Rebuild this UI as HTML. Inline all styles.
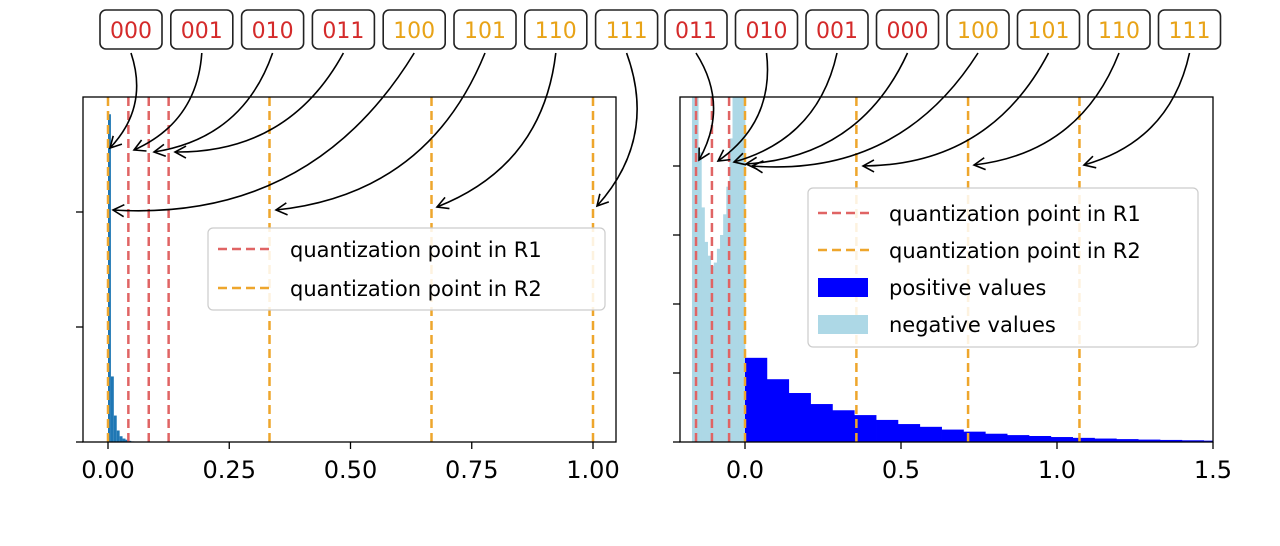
<!DOCTYPE html>
<html><head><meta charset="utf-8"><style>
html,body{margin:0;padding:0;background:#fff;}
svg{display:block;font-family:"DejaVu Sans","Liberation Sans",sans-serif;}
</style></head><body>
<svg id="fig" width="1280" height="546" viewBox="0 0 1280 546">
<defs>
<marker id="ah" markerWidth="14" markerHeight="14" refX="12" refY="7" orient="auto" markerUnits="userSpaceOnUse">
<path d="M1,1 L12,7 L1,13" fill="none" stroke="#000" stroke-width="1.6"/>
</marker>
</defs>
<g id="left"></g>
<g id="right"></g>
<g id="labels"></g>
</svg>
<script>
const NS="http://www.w3.org/2000/svg";
// ---- data ----
const leftBinStart=0.0;
const leftBinWidth=0.006;
const leftCounts=[2.85,0.57,0.23,0.10,0.05,0.03,0.02,0.01,0.005];
const leftR1=[0.0,0.042,0.084,0.125];
const leftR2=[0.0,0.333,0.667,1.0];
const leftXTicks=[0,0.25,0.5,0.75,1.0];
const leftXTickLabels=["0.00","0.25","0.50","0.75","1.00"];
const leftYTicks=[0,1,2];
const negBinStart=-0.17;
const negBinWidth=0.01;
const negCounts=[6,6,4.2,3.4,2.9,2.7,2.55,2.6,2.8,3.0,3.3,3.7,4.4,6,6,6,6];
const posBinWidth=0.07;
const posCounts=[1.22,0.91,0.71,0.55,0.46,0.39,0.32,0.26,0.22,0.18,0.15,0.12,0.10,0.087,0.072,0.06,0.05,0.042,0.035,0.03,0.025,0.02,0.02];
const rightR1=[-0.157,-0.106,-0.051];
const rightR2=[0.0,0.357,0.715,1.072];
const rightXTicks=[0,0.5,1.0,1.5];
const rightXTickLabels=["0.0","0.5","1.0","1.5"];
const rightYTicks=[0,1,2,3,4];
const leftCodes=["000","001","010","011","100","101","110","111"];
const rightCodes=["011","010","001","000","100","101","110","111"];
const leftTargets=[[110,148],[134,150],[154,152],[175,152],[113,210],[276,210],[437,207],[597,206]];
const rightTargets=[[699,160],[718,161],[734,162],[746,164],[752,166],[863,166],[974,165],[1084,165]];

function el(tag,attrs,parent){const e=document.createElementNS(NS,tag);for(const k in attrs)e.setAttribute(k,attrs[k]);parent.appendChild(e);return e;}
const RED="#e06464",ORG="#eea62c";

// ---- left axes ----
const L={x0:83,x1:616,y0:97,y1:442};
const lx=v=>108+v*485;
const ly=v=>442-v*115;
const lg=document.getElementById('left');
leftCounts.forEach((c,i)=>{
  const x=lx(leftBinStart+i*leftBinWidth), w=lx(leftBinStart+(i+1)*leftBinWidth)-x;
  const r=el('rect',{x:x,y:ly(Math.min(c,3)),width:w,height:442-ly(Math.min(c,3)),fill:"#1f77b4"},lg);
  
  
});
leftR1.slice(1).forEach(v=>{const l=el('line',{x1:lx(v),x2:lx(v),y1:L.y0,y2:L.y1,stroke:RED,"stroke-width":2.5,"stroke-dasharray":"9,5"},lg);
  });
leftR2.forEach(v=>{const l=el('line',{x1:lx(v),x2:lx(v),y1:L.y0,y2:L.y1,stroke:ORG,"stroke-width":2.5,"stroke-dasharray":"9,5"},lg);
  });
el('rect',{x:L.x0,y:L.y0,width:L.x1-L.x0,height:L.y1-L.y0,fill:"none",stroke:"#000","stroke-width":1.3},lg);
leftXTicks.forEach((v,i)=>{el('line',{x1:lx(v),x2:lx(v),y1:442,y2:449,stroke:"#000","stroke-width":1.3},lg);
  const t=el('text',{x:lx(v),y:478,"font-size":24,"text-anchor":"middle"},lg);t.textContent=leftXTickLabels[i];
  });
leftYTicks.forEach(v=>el('line',{x1:L.x0-7,x2:L.x0,y1:ly(v),y2:ly(v),stroke:"#000","stroke-width":1.3},lg));
const llg=el('g',{},lg);
el('rect',{x:208,y:228,width:397,height:82,rx:5,fill:"#fff","fill-opacity":0.85,stroke:"#ccc","stroke-width":1.2},llg);
el('line',{x1:218,x2:272,y1:249,y2:249,stroke:RED,"stroke-width":2.5,"stroke-dasharray":"9,5"},llg);
el('line',{x1:218,x2:272,y1:288,y2:288,stroke:ORG,"stroke-width":2.5,"stroke-dasharray":"9,5"},llg);
let t=el('text',{x:290,y:257,"font-size":21},llg);t.textContent="quantization point in R1";
t=el('text',{x:290,y:296,"font-size":21},llg);t.textContent="quantization point in R2";

// ---- right axes ----
const R={x0:680,x1:1213,y0:97,y1:442};
const rx=v=>745+v*312;
const ry=v=>442-v*69;
const rg=document.getElementById('right');
const clip=el('clipPath',{id:"rclip"},rg);el('rect',{x:R.x0,y:R.y0,width:R.x1-R.x0,height:R.y1-R.y0},clip);
const rb=el('g',{"clip-path":"url(#rclip)"},rg);
negCounts.forEach((c,i)=>{
  const x=rx(negBinStart+i*negBinWidth), w=rx(negBinStart+(i+1)*negBinWidth)-x;
  const r=el('rect',{x:x,y:ry(c),width:w+0.4,height:442-ry(c),fill:"#add8e6"},rb);
  
});
posCounts.forEach((c,i)=>{
  const x=rx(i*posBinWidth), w=rx((i+1)*posBinWidth)-x;
  const r=el('rect',{x:x,y:ry(c),width:w+0.4,height:442-ry(c),fill:"#0000ff"},rb);
  
});
rightR1.forEach(v=>{const l=el('line',{x1:rx(v),x2:rx(v),y1:R.y0,y2:R.y1,stroke:RED,"stroke-width":2.5,"stroke-dasharray":"9,5"},rg);
  });
rightR2.forEach(v=>{const l=el('line',{x1:rx(v),x2:rx(v),y1:R.y0,y2:R.y1,stroke:ORG,"stroke-width":2.5,"stroke-dasharray":"9,5"},rg);
  });
el('rect',{x:R.x0,y:R.y0,width:R.x1-R.x0,height:R.y1-R.y0,fill:"none",stroke:"#000","stroke-width":1.3},rg);
rightXTicks.forEach((v,i)=>{el('line',{x1:rx(v),x2:rx(v),y1:442,y2:449,stroke:"#000","stroke-width":1.3},rg);
  const t=el('text',{x:rx(v),y:478,"font-size":24,"text-anchor":"middle"},rg);t.textContent=rightXTickLabels[i];
  });
rightYTicks.forEach(v=>el('line',{x1:R.x0-7,x2:R.x0,y1:ry(v),y2:ry(v),stroke:"#000","stroke-width":1.3},rg));
const rlg=el('g',{},rg);
el('rect',{x:808,y:188,width:390,height:159,rx:5,fill:"#fff","fill-opacity":0.85,stroke:"#ccc","stroke-width":1.2},rlg);
el('line',{x1:818,x2:872,y1:213,y2:213,stroke:RED,"stroke-width":2.5,"stroke-dasharray":"9,5"},rlg);
el('line',{x1:818,x2:872,y1:250,y2:250,stroke:ORG,"stroke-width":2.5,"stroke-dasharray":"9,5"},rlg);
el('rect',{x:818,y:278,width:50,height:19,fill:"#0000ff"},rlg);
el('rect',{x:818,y:315,width:50,height:19,fill:"#add8e6"},rlg);
[["quantization point in R1",221],["quantization point in R2",258],["positive values",295],["negative values",332]].forEach(([s,y])=>{
  const t=el('text',{x:889,y:y,"font-size":21},rlg);t.textContent=s;});

// ---- code labels + arrows ----
const lab=document.getElementById('labels');
function drawLabel(code,bx,target){
  const g=el('g',{},lab);
  
  
  el('rect',{x:bx,y:10,width:62,height:39,rx:6,fill:"#fff",stroke:"#222","stroke-width":1.6},g);
  const t=el('text',{x:bx+31,y:38,"font-size":22,"text-anchor":"middle",fill:code[0]==="0"?"#d42a2a":"#e8a317"},g);
  t.textContent=code;
  const sx=bx+31, sy=53;
  const [tx,ty]=target;
  const mx=(sx+tx)/2, my=(sy+ty)/2, dx=tx-sx, dy=ty-sy, rad=0.3;
  const cx=mx+rad*dy, cy=my-rad*dx;
  const d=`M${sx},${sy} Q${cx},${cy} ${tx},${ty}`;
  const p=el('path',{d:d,fill:"none",stroke:"#000","stroke-width":1.6,"marker-end":"url(#ah)"},g);
  
  
}
leftCodes.forEach((c,i)=>drawLabel(c,100+i*70.8,leftTargets[i]));
rightCodes.forEach((c,i)=>drawLabel(c,665+i*70.5,rightTargets[i]));
</script>
</body></html>
